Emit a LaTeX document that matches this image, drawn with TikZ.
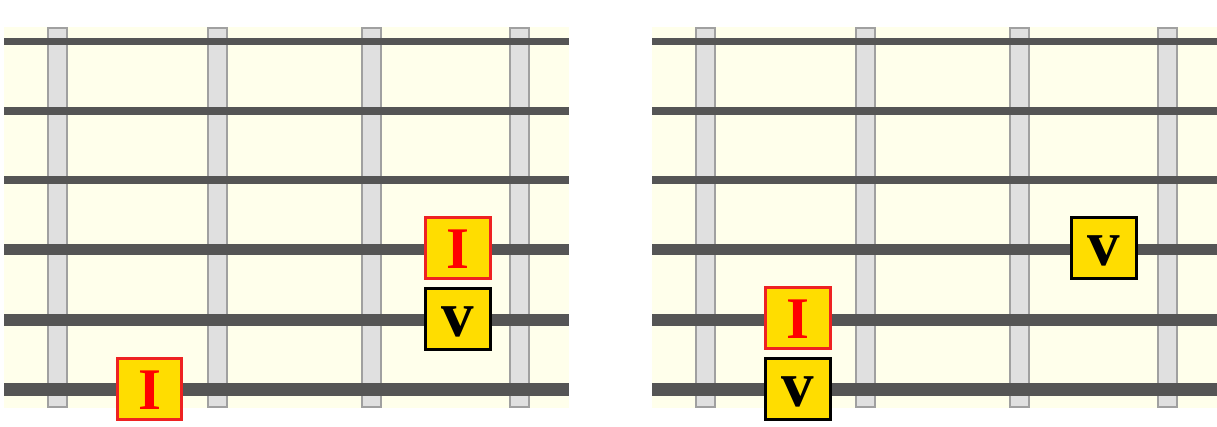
\documentclass[tikz,border=0pt]{standalone}
\usepackage{fontspec}
\setmainfont{Liberation Serif}
\definecolor{bgyellow}{HTML}{FFFFEB}
\definecolor{fretfill}{HTML}{E0E0E0}
\definecolor{fretline}{HTML}{A0A0A0}
\definecolor{strcol}{HTML}{555555}
\definecolor{gold}{HTML}{FFDD00}
\definecolor{rootred}{HTML}{EE2222}
\definecolor{textred}{HTML}{FF0000}
\begin{document}
\begin{tikzpicture}[x=1pt,y=-1pt,
  panelbg/.style={fill=bgyellow},
  fretbar/.style={draw=fretline,fill=fretfill,line width=2pt,minimum width=19pt,minimum height=379pt,inner sep=0pt,rectangle},
  strline/.style={draw=strcol},
  markbox/.style={rectangle,fill=gold,line width=3pt,minimum width=64.5pt,minimum height=61pt,inner sep=0pt,font=\bfseries},
  rootbox/.style={markbox,draw=rootred,text=textred,text height=41.2pt,text depth=0pt,font=\fontsize{59}{59}\selectfont\bfseries},
  fifthbox/.style={markbox,draw=black,text=black,text height=35.4pt,text depth=0pt,font=\fontsize{65}{65}\selectfont\bfseries}
]
\useasboundingbox (0,0) rectangle (1217,427);
\foreach \p/\ox in {L/0,R/648}{
  \fill[panelbg] (4+\ox,27) rectangle (569+\ox,408.3);
  \foreach \fx [count=\k] in {57.2,217.2,371.7,519.5}{
    \node[fretbar] (fret\p\k) at (\fx+\ox,217.6) {};
  }
  \foreach \sy/\sw [count=\k] in {41.7/6.7,111/7.3,180/8.7,249.8/11,320/12,389.5/13.7}{
    \coordinate (s\p\k a) at (4+\ox,\sy);
    \coordinate (s\p\k b) at (569+\ox,\sy);
    \draw[strline,line width=\sw pt] (s\p\k a) -- (s\p\k b);
  }
}
\node[rootbox]  (rootLa) at (458,247.7) {I};
\node[fifthbox] (fifthLa) at (458,319) {v};
\node[rootbox]  (rootLb) at (149.7,388.7) {I};
\node[rootbox]  (rootR) at (798,317.7) {I};
\node[fifthbox] (fifthRa) at (798,389) {v};
\node[fifthbox] (fifthRb) at (1104,248) {v};
\end{tikzpicture}
\end{document}
